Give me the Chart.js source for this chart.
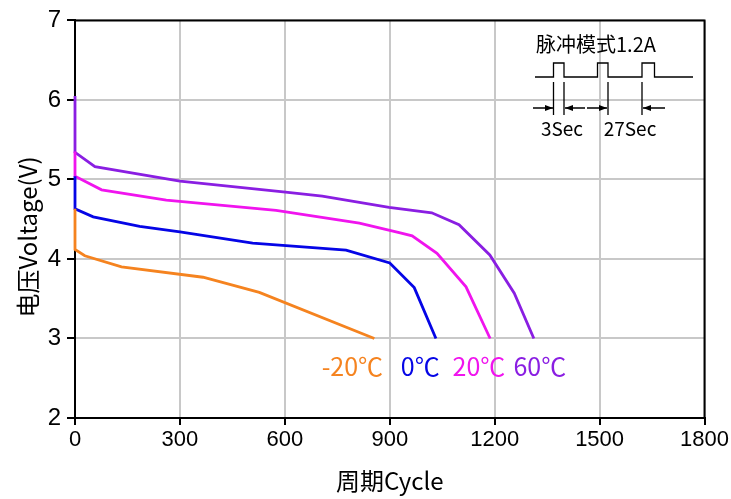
<!DOCTYPE html>
<html>
<head>
<meta charset="utf-8">
<script src="https://cdn.jsdelivr.net/npm/chart.js@4.4.1/dist/chart.umd.min.js"></script>
<style>
html,body{margin:0;padding:0;background:#fff;}
canvas{display:block;}
</style>
</head>
<body>
<canvas id="c" width="731" height="499"></canvas>
<script>
// ---- data ----
const seriesNames = ['-20℃', '0℃', '20℃', '60℃'];
const orangeX = [0, 0, 28, 133, 366, 527, 856];
const orangeY = [4.63, 4.12, 4.04, 3.90, 3.77, 3.58, 3.0];
const blueX = [0, 0, 52, 185, 300, 508, 775, 900, 970, 1032];
const blueY = [5.04, 4.63, 4.53, 4.41, 4.34, 4.20, 4.11, 3.95, 3.64, 3.0];
const magentaX = [0, 0, 76, 261, 575, 813, 927, 964, 1035, 1118, 1187];
const magentaY = [5.35, 5.04, 4.87, 4.74, 4.61, 4.45, 4.33, 4.29, 4.07, 3.65, 3.0];
const purpleX = [0, 0, 57, 300, 602, 707, 898, 1020, 1098, 1186, 1256, 1312];
const purpleY = [6.05, 5.34, 5.16, 4.98, 4.84, 4.79, 4.65, 4.58, 4.43, 4.05, 3.57, 3.0];
const xTicks = [0, 300, 600, 900, 1200, 1500, 1800];
const yTicks = [2, 3, 4, 5, 6, 7];
// series label anchor positions (data coordinates)
const labelX = [793, 987, 1155, 1329];
const labelY = [2.65, 2.65, 2.65, 2.65];
const colors = ['#F5831F', '#0505E6', '#F014EE', '#8A1EE2'];
const xTitle = '周期Cycle';
const yTitle = '电压Voltage(V)';
const insetTitle = '脉冲模式1.2A';
const insetLabels = ['3Sec', '27Sec'];

function pts(xs, ys) { return xs.map((x, i) => ({x: x, y: ys[i]})); }
const allX = [orangeX, blueX, magentaX, purpleX];
const allY = [orangeY, blueY, magentaY, purpleY];

const datasets = seriesNames.map((n, i) => ({
  label: n,
  data: pts(allX[i], allY[i]),
  borderColor: colors[i],
  backgroundColor: colors[i],
  borderWidth: 2.8,
  pointRadius: 0,
  tension: 0,
  fill: false,
  clip: false
}));

const NUMFONT = 'Liberation Sans, Arial, sans-serif';
const CJKFONT = '"Noto Sans CJK SC", sans-serif';

const decor = {
  id: 'decor',
  afterDatasetsDraw(chart) {
    const ctx = chart.ctx;
    const a = chart.chartArea;
    const xs = chart.scales.x, ys = chart.scales.y;
    ctx.save();
    // frame (top & right)
    ctx.strokeStyle = '#000';
    ctx.lineWidth = 2;
    ctx.beginPath();
    ctx.moveTo(a.left, a.top);
    ctx.lineTo(a.right, a.top);
    ctx.lineTo(a.right, a.bottom);
    ctx.stroke();
    // series labels
    ctx.font = '25px ' + CJKFONT;
    ctx.textAlign = 'center';
    ctx.textBaseline = 'middle';
    seriesNames.forEach((n, i) => {
      ctx.fillStyle = colors[i];
      ctx.fillText(n, xs.getPixelForValue(labelX[i]), ys.getPixelForValue(labelY[i]));
    });
    // y title
    ctx.fillStyle = '#000';
    ctx.save();
    ctx.translate(28, 237);
    ctx.rotate(-Math.PI / 2);
    ctx.font = '24px ' + CJKFONT;
    ctx.fillText(yTitle, 0, 0);
    ctx.restore();
    // inset pulse diagram
    ctx.fillStyle = '#000';
    ctx.font = '20px ' + CJKFONT;
    ctx.textAlign = 'left';
    ctx.fillText(insetTitle, 536, 44);
    ctx.lineWidth = 1.3;
    ctx.beginPath();
    const base = 77, high = 63;
    const pulses = [[553.5, 564], [597.5, 608], [642, 654.5]];
    ctx.moveTo(535, base);
    pulses.forEach(p => {
      ctx.lineTo(p[0], base); ctx.lineTo(p[0], high); ctx.lineTo(p[1], high); ctx.lineTo(p[1], base);
    });
    ctx.lineTo(693, base);
    ctx.stroke();
    // dimension lines
    ctx.beginPath();
    [553.5, 564, 608, 642].forEach(x => { ctx.moveTo(x, 82); ctx.lineTo(x, 115); });
    const ay = 108;
    ctx.moveTo(533, ay); ctx.lineTo(553, ay);
    ctx.moveTo(565, ay); ctx.lineTo(585, ay);
    ctx.moveTo(587, ay); ctx.lineTo(607, ay);
    ctx.moveTo(643, ay); ctx.lineTo(665, ay);
    ctx.stroke();
    function arrow(tipX, dir) {
      ctx.beginPath();
      ctx.moveTo(tipX, ay);
      ctx.lineTo(tipX - dir * 8, ay - 3);
      ctx.lineTo(tipX - dir * 8, ay + 3);
      ctx.closePath();
      ctx.fill();
    }
    arrow(553, 1); arrow(565, -1); arrow(607, 1); arrow(643, -1);
    ctx.font = '19px ' + CJKFONT;
    ctx.textAlign = 'center';
    ctx.fillText(insetLabels[0], 562, 129);
    ctx.fillText(insetLabels[1], 630, 129);
    ctx.restore();
  }
};

new Chart(document.getElementById('c'), {
  type: 'line',
  data: { datasets: datasets },
  options: {
    responsive: false,
    animation: false,
    devicePixelRatio: 1,
    layout: { padding: { top: 18, right: 25, left: 0, bottom: 0 } },
    plugins: { legend: { display: false }, tooltip: { enabled: false } },
    scales: {
      x: {
        type: 'linear',
        min: 0, max: 1800,
        afterBuildTicks: s => { s.ticks = xTicks.map(v => ({value: v})); },
        afterFit: s => { s.height = 81; },
        grid: { color: '#c8c8c8', lineWidth: 2, tickColor: '#000', tickLength: 7, tickWidth: 2 },
        border: { color: '#000', width: 2 },
        ticks: { color: '#000', font: { family: NUMFONT, size: 22 }, padding: 2, maxRotation: 0, callback: v => String(v) },
        title: { display: true, text: xTitle, color: '#000', font: { family: CJKFONT, size: 24 }, padding: { top: 0, bottom: 4 } }
      },
      y: {
        type: 'linear',
        min: 2, max: 7,
        afterBuildTicks: s => { s.ticks = yTicks.map(v => ({value: v})); },
        afterFit: s => { s.width = 75; },
        grid: { color: '#c8c8c8', lineWidth: 2, tickColor: '#000', tickLength: 8, tickWidth: 2 },
        border: { color: '#000', width: 2 },
        ticks: { color: '#000', font: { family: NUMFONT, size: 24 }, padding: 6, callback: v => String(v) }
      }
    }
  },
  plugins: [decor]
});
</script>
</body>
</html>
